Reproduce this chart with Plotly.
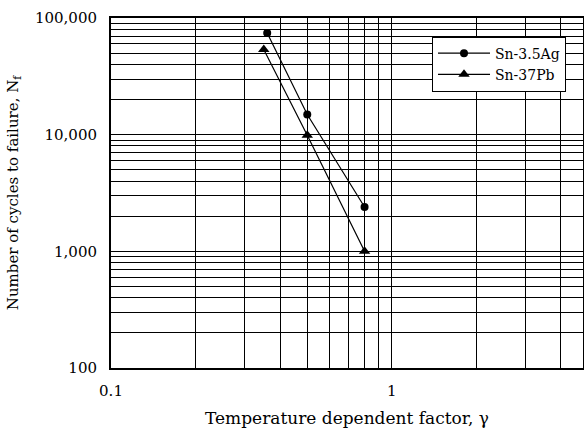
import plotly.graph_objects as go

# Data
ag_gamma = [0.36, 0.5, 0.8]
ag_cycles = [74300, 14900, 2400]
pb_gamma = [0.35, 0.5, 0.8]
pb_cycles = [53700, 9900, 1000]

x_tickvals = [0.1, 1]
x_ticktext = ["0.1", "1"]
y_tickvals = [100, 1000, 10000, 100000]
y_ticktext = ["100", "1,000", "10,000", "100,000"]

FONT = "DejaVu Serif"

fig = go.Figure()
fig.add_trace(go.Scatter(
    x=ag_gamma, y=ag_cycles, name="Sn-3.5Ag", mode="lines+markers",
    line=dict(color="black", width=1.2),
    marker=dict(symbol="circle", size=8, color="black"),
))
fig.add_trace(go.Scatter(
    x=pb_gamma, y=pb_cycles, name="Sn-37Pb", mode="lines+markers",
    line=dict(color="black", width=1.2),
    marker=dict(symbol="triangle-up", size=10, color="black"),
))

fig.update_layout(
    width=584, height=428,
    margin=dict(l=111, r=1, t=18, b=60),
    paper_bgcolor="white", plot_bgcolor="white",
    font=dict(family=FONT, color="black", size=14),
    legend=dict(
        x=0.964, y=0.947, xanchor="right", yanchor="top",
        bgcolor="white", bordercolor="black", borderwidth=1,
        font=dict(family=FONT, size=14, color="black"),
        tracegroupgap=0, itemwidth=52,
    ),
    showlegend=True,
)

fig.update_xaxes(
    type="log", range=[-1, 0.681],
    tickvals=x_tickvals, ticktext=x_ticktext,
    showgrid=True, gridcolor="black", gridwidth=1.3,
    minor=dict(dtick="D1", showgrid=True, gridcolor="black", gridwidth=1.3),
    showline=True, linecolor="black", linewidth=2, mirror=True,
    ticks="", ticklabelstandoff=8,
    tickfont=dict(family=FONT, size=15),
    title=dict(text="Temperature dependent factor, γ", standoff=22,
               font=dict(family=FONT, size=17)),
    automargin=False,
    zeroline=False,
)
fig.update_yaxes(
    type="log", range=[2, 5],
    tickvals=y_tickvals, ticktext=y_ticktext,
    showgrid=True, gridcolor="black", gridwidth=1.3,
    minor=dict(dtick="D1", showgrid=True, gridcolor="black", gridwidth=1.3),
    showline=True, linecolor="black", linewidth=2, mirror=True,
    ticks="", ticklabelstandoff=9,
    tickfont=dict(family=FONT, size=15),
    title=dict(text="Number of cycles to failure, N<sub>f</sub>", standoff=13,
               font=dict(family=FONT, size=15)),
    automargin=False,
    zeroline=False,
)

fig.write_html("out.html")
